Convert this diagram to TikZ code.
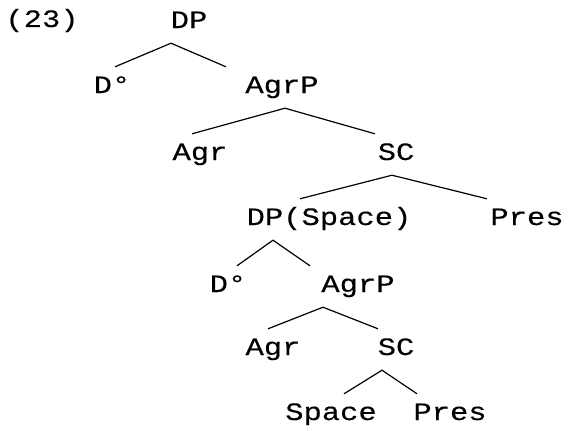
\documentclass[tikz,border=0pt]{standalone}
\usepackage{fontspec}
\newfontfamily\treefont[FakeStretch=1.22, FakeBold=0.3]{Liberation Mono}
\usepackage{tikz}

\tikzset{
  cat/.style={anchor=base, font={\treefont\fontsize{25}{25}\selectfont}, text height=15pt, text depth=4pt, inner xsep=0pt, inner ysep=11pt},
  branch/.style={line width=1.2pt}
}

\begin{document}
\begin{tikzpicture}[x=1pt, y=-1pt]

\useasboundingbox (0, 0) rectangle (568, 431);

\node[cat] (ex num) at (42, 27) {(23)};

\node[cat] (dp top) at (189, 28) {DP};

\node[cat] (d a) at (112, 93) {D°};
\node[cat] (agrp a) at (282, 93) {AgrP};

\node[cat] (agr a) at (200, 160) {Agr};
\node[cat] (sc a) at (396, 160) {SC};

\node[cat] (dp space) at (329, 225) {DP(Space)};
\node[cat] (pres a) at (527, 225) {Pres};

\node[cat] (d b) at (228, 292) {D°};
\node[cat] (agrp b) at (358, 292) {AgrP};

\node[cat] (agr b) at (273, 355) {Agr};
\node[cat] (sc b) at (396, 355) {SC};

\node[cat] (space) at (331, 420) {Space};
\node[cat] (pres b) at (450, 420) {Pres};

\draw[branch] ([xshift=3pt] d a.north) -- ([xshift=-18pt] dp top.south) -- ([xshift=-56pt] agrp a.north);
\draw[branch] ([xshift=-8pt] agr a.north) -- ([xshift=3pt] agrp a.south) -- ([xshift=-21pt] sc a.north);
\draw[branch] ([xshift=-29pt] dp space.north) -- ([xshift=-4pt] sc a.south) -- ([xshift=-40pt] pres a.north);
\draw[branch] ([xshift=9pt] d b.north) -- ([xshift=-56pt] dp space.south) -- ([xshift=-48pt] agrp b.north);
\draw[branch] ([xshift=-5pt] agr b.north) -- ([xshift=-35pt] agrp b.south) -- ([xshift=-18pt] sc b.north);
\draw[branch] ([xshift=13pt] space.north) -- ([xshift=-14pt] sc b.south) -- ([xshift=-33pt] pres b.north);

\end{tikzpicture}
\end{document}
